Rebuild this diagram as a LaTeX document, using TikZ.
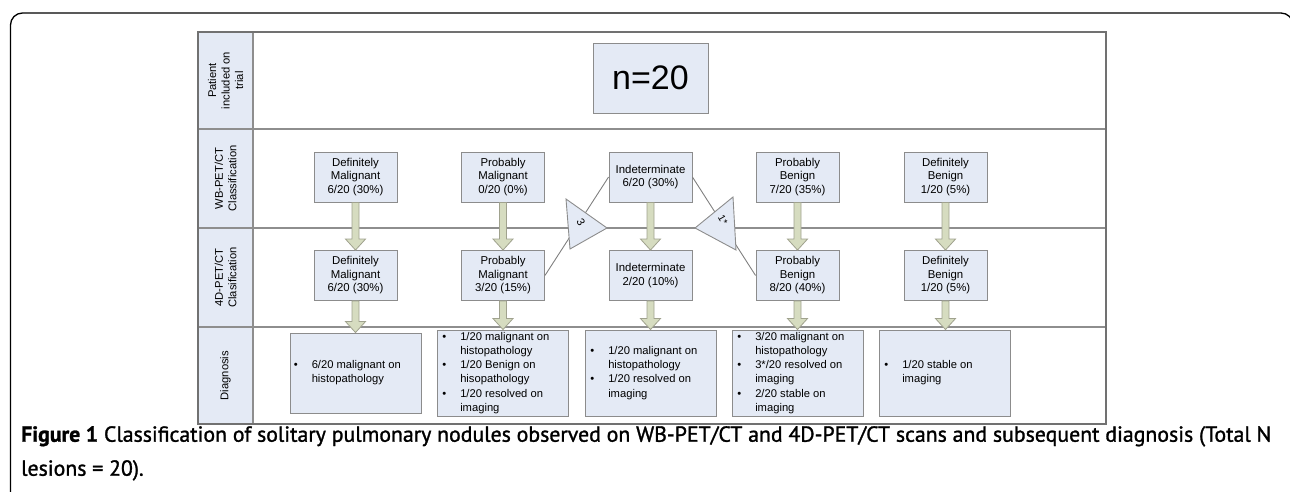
\documentclass[tikz,border=0pt]{standalone}
\usepackage{fontspec}
\setmainfont{Liberation Sans}
\newfontfamily\capfont{PT Sans}[FakeBold=1.3]
\usepackage{tikz}
\usetikzlibrary{positioning,calc}
\usepackage{xcolor}

\definecolor{boxblue}{HTML}{E4EAF5}
\definecolor{boxline}{HTML}{8C8C8C}
\definecolor{gridgrey}{HTML}{8E8E8E}
\definecolor{arrowgreen}{HTML}{D6DCC0}
\definecolor{arrowline}{HTML}{A0A28E}

\tikzset{
  clsbox/.style={draw=boxline, fill=boxblue, line width=0.9, minimum width=83, minimum height=50,
    inner sep=0, align=center, font=\fontsize{11.4}{13.5}\selectfont},
  dxbox/.style={draw=boxline, fill=boxblue, line width=0.9, minimum width=131, minimum height=86, inner sep=0},
  dxtext/.style={anchor=west, inner sep=0, align=left, font=\fontsize{11.2}{14.2}\selectfont},
  rowlabel/.style={rotate=90, align=center, inner sep=0, font=\fontsize{11.2}{13.5}\selectfont},
  arrowblk/.style={fill=arrowgreen, draw=arrowline, line width=0.8},
  tri/.style={fill=boxblue, draw=boxline, line width=0.9},
  link/.style={draw=gray, line width=0.9}
}

% block arrow from one anchor straight down to another
\newcommand{\blockarrow}[2]{%
  \path[arrowblk] let \p1=(#1), \p2=(#2) in
    ({\x1-3.5pt},\y1) -- ({\x1-3.5pt},{\y2+11pt}) -- ({\x1-10pt},{\y2+11pt}) -- (\x1,\y2)
    -- ({\x1+10pt},{\y2+11pt}) -- ({\x1+3.5pt},{\y2+11pt}) -- ({\x1+3.5pt},\y1) -- cycle;}

\newcommand{\dxlist}[1]{\begin{tabular}{@{}p{18pt}@{}l@{}}#1\end{tabular}}

\begin{document}
\begin{tikzpicture}[x=1pt, y=-1pt]
  \useasboundingbox (0,0) rectangle (1290,492);

  % outer frame
  \draw[black, line width=1.3, rounded corners=12] (10.5,495) -- (10.5,13) -- (1293,13) -- (1293,495);

  % table
  \fill[boxblue] (198,32) rectangle (253,424);
  \draw[gridgrey, line width=1.4] (198,129) -- (1106,129);
  \draw[gridgrey, line width=1.4] (198,228) -- (1106,228);
  \draw[gridgrey, line width=1.4] (198,327) -- (1106,327);
  \draw[gridgrey, line width=1.4] (253,32) -- (253,424);
  \draw[gridgrey!80!black, line width=1.6] (198,32) rectangle (1106,424);

  % row labels
  \node[rowlabel] (rowPat) at (225.5,80.5) {Patient\\included on\\trial};
  \node[rowlabel] (rowWB) at (225.5,178.5) {WB-PET/CT\\Classification};
  \node[rowlabel] (rowFD) at (225.5,277.5) {4D-PET/CT\\Clasification};
  \node[rowlabel] (rowDx) at (225.5,375.5) {Diagnosis};

  % total
  \node[clsbox, minimum width=115, minimum height=70, font=\fontsize{34}{36}\selectfont] (total) at (650.5,78) {n=20};

  % WB-PET/CT row
  \node[clsbox] (dmWB) at (355.5,177) {Definitely\\Malignant\\6/20 (30\%)};
  \node[clsbox] (pmWB) at (503,177) {Probably\\Malignant\\0/20 (0\%)};
  \node[clsbox] (indWB) at (650.5,177) {Indeterminate\\6/20 (30\%)};
  \node[clsbox] (pbWB) at (797.5,177) {Probably\\Benign\\7/20 (35\%)};
  \node[clsbox] (dbWB) at (945.5,177) {Definitely\\Benign\\1/20 (5\%)};

  % 4D-PET/CT row
  \node[clsbox] (dm4D) at (355.5,275.5) {Definitely\\Malignant\\6/20 (30\%)};
  \node[clsbox] (pm4D) at (503,275.5) {Probably\\Malignant\\3/20 (15\%)};
  \node[clsbox] (ind4D) at (650.5,275.5) {Indeterminate\\2/20 (10\%)};
  \node[clsbox] (pb4D) at (797.5,275.5) {Probably\\Benign\\8/20 (40\%)};
  \node[clsbox] (db4D) at (945.5,275.5) {Definitely\\Benign\\1/20 (5\%)};

  % links through the triangles
  \draw[link] (indWB.west) -- (pm4D.east);
  \draw[link] (indWB.east) -- (pb4D.west);

  % moved lesions
  \filldraw[tri] (566,199) -- (570,249) -- (607,228) -- cycle;
  \node[rotate=-60, inner sep=0, font=\fontsize{11}{13}\selectfont] (movedPM) at (581,222) {3};
  \filldraw[tri] (733,197) -- (736,250) -- (695,228) -- cycle;
  \node[rotate=-60, inner sep=0, font=\fontsize{10}{12}\selectfont] (movedPB) at (723,220) {1*};

  % Diagnosis row
  \node[dxbox, minimum height=80] (dmDx) at (355.5,373) {};
  \node[dxbox] (pmDx) at (503,373) {};
  \node[dxbox] (indDx) at (651,373) {};
  \node[dxbox] (pbDx) at (798,373) {};
  \node[dxbox] (dbDx) at (945,373) {};

  \node[dxtext, xshift=4] at (dmDx.west) {\dxlist{\textbullet & 6/20 malignant on\\ & histopathology}};
  \node[dxtext, xshift=5] at (pmDx.west) {\dxlist{\textbullet & 1/20 malignant on\\ & histopathology\\
    \textbullet & 1/20 Benign on\\ & hisopathology\\ \textbullet & 1/20 resolved on\\ & imaging}};
  \node[dxtext, xshift=5] at (indDx.west) {\dxlist{\textbullet & 1/20 malignant on\\ & histopathology\\
    \textbullet & 1/20 resolved on\\ & imaging}};
  \node[dxtext, xshift=5] at (pbDx.west) {\dxlist{\textbullet & 3/20 malignant on\\ & histopathology\\
    \textbullet & 3*/20 resolved on\\ & imaging\\ \textbullet & 2/20 stable on\\ & imaging}};
  \node[dxtext, xshift=5] at (dbDx.west) {\dxlist{\textbullet & 1/20 stable on\\ & imaging}};

  % arrows down each column
  \foreach \c in {dm,pm,ind,pb,db} {
    \blockarrow{\c WB.south}{\c 4D.north}
    \blockarrow{\c 4D.south}{\c Dx.north}
  }

  % caption
  \node[anchor=north west, align=left, inner sep=0, font=\capfont\fontsize{21.8}{34}\selectfont] (caption) at (21,426)
    {\textbf{Figure 1} Classification of solitary pulmonary nodules observed on WB-PET/CT and 4D-PET/CT scans and subsequent diagnosis (Total N\\lesions = 20).};
\end{tikzpicture}
\end{document}
